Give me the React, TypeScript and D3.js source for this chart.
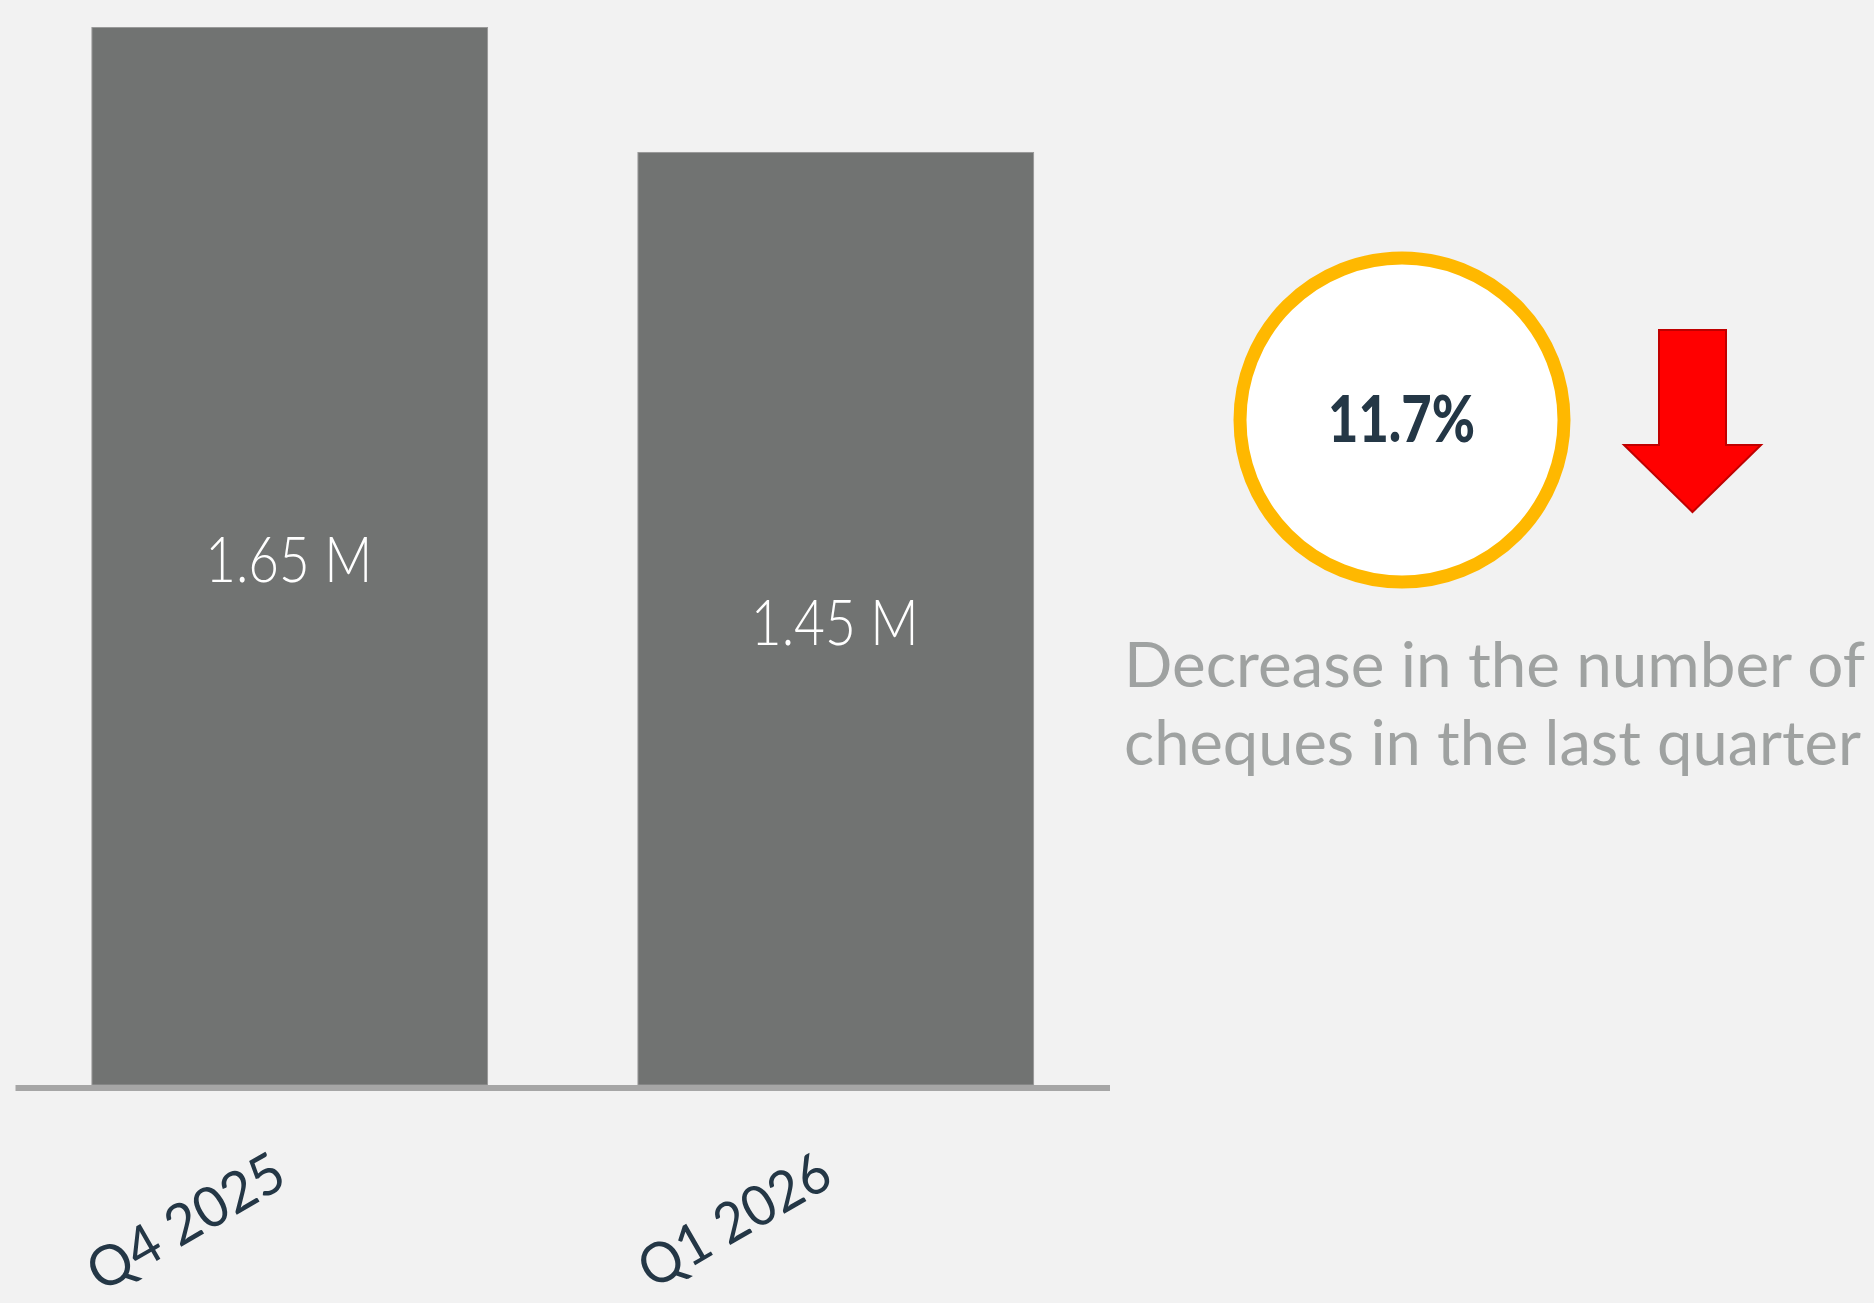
import React from "react";
import * as d3 from "d3";

const categories = ["Q4 2025", "Q1 2026"];
const values = [1.65, 1.455];
const valueLabels = ["1.65 M", "1.45 M"];
const changeLabel = "11.7%";
const captionLines = ["Decrease in the number of", "cheques in the last quarter"];

const W = 1874;
const H = 1303;

export default function App() {
  const x = d3
    .scaleBand<string>()
    .domain(categories)
    .range([15.5, 1110])
    .paddingInner(0.2755)
    .paddingOuter(0.14);
  const y = d3.scaleLinear().domain([0, d3.max(values) as number]).range([1085, 27.5]);

  const font = "Lato, 'Open Sans', sans-serif";
  const navy = "#243746";

  const labelWidths = [218, 212];
  const valueWidths = [167, 168];

  // arrow geometry
  const ax = 1692.5;
  const arrowPath = d3.path();
  arrowPath.moveTo(1659, 330);
  arrowPath.lineTo(1726, 330);
  arrowPath.lineTo(1726, 445);
  arrowPath.lineTo(1761, 445);
  arrowPath.lineTo(ax, 512);
  arrowPath.lineTo(1624, 445);
  arrowPath.lineTo(1659, 445);
  arrowPath.closePath();

  return (
    <svg
      width={W}
      height={H}
      style={{ position: "absolute", left: 0, top: 0, display: "block" }}
    >
      <rect x={0} y={0} width={W} height={H} fill="#f2f2f2" />
      {categories.map((c, i) => {
        const bx = x(c) as number;
        const bw = x.bandwidth();
        const top = y(values[i]);
        const bottom = y(0);
        const mid = (top + bottom) / 2;
        return (
          <g key={c}>
            <rect
              x={bx}
              y={top}
              width={bw}
              height={bottom - top}
              fill="#717372"
              stroke="#9a9a9a"
              strokeWidth={1}
            />
            <text
              x={bx + bw / 2 - 1}
              y={mid + 26}
              textAnchor="middle"
              fill="#ffffff"
              fontFamily={font}
              fontWeight={300}
              fontSize={63}
              textLength={valueWidths[i]}
              lengthAdjust="spacingAndGlyphs"
            >
              {valueLabels[i]}
            </text>
            <text
              transform={`translate(${bx + bw / 2},1184) rotate(-30)`}
              textAnchor="end"
              fill={navy}
              fontFamily={font}
              fontSize={56}
              textLength={labelWidths[i]}
              lengthAdjust="spacingAndGlyphs"
            >
              {c}
            </text>
          </g>
        );
      })}
      <rect x={15.5} y={1085} width={1094.5} height={6} fill="#a6a6a6" />

      <circle cx={1402} cy={420} r={162} fill="#ffffff" stroke="#ffb800" strokeWidth={13} />
      <text
        x={1401.5}
        y={441.5}
        textAnchor="middle"
        fill={navy}
        fontFamily={font}
        fontWeight={900}
        fontSize={64}
        textLength={147}
        lengthAdjust="spacingAndGlyphs"
      >
        {changeLabel}
      </text>

      <path d={arrowPath.toString()} fill="#ff0000" stroke="#c00000" strokeWidth={2} />

      {captionLines.map((line, i) => (
        <text
          key={i}
          x={1124}
          y={687 + i * 78}
          fill="#9fa2a1"
          fontFamily={font}
          fontWeight={400}
          fontSize={61}
          textLength={i === 0 ? 741 : 737}
          lengthAdjust="spacingAndGlyphs"
        >
          {line}
        </text>
      ))}
    </svg>
  );
}
